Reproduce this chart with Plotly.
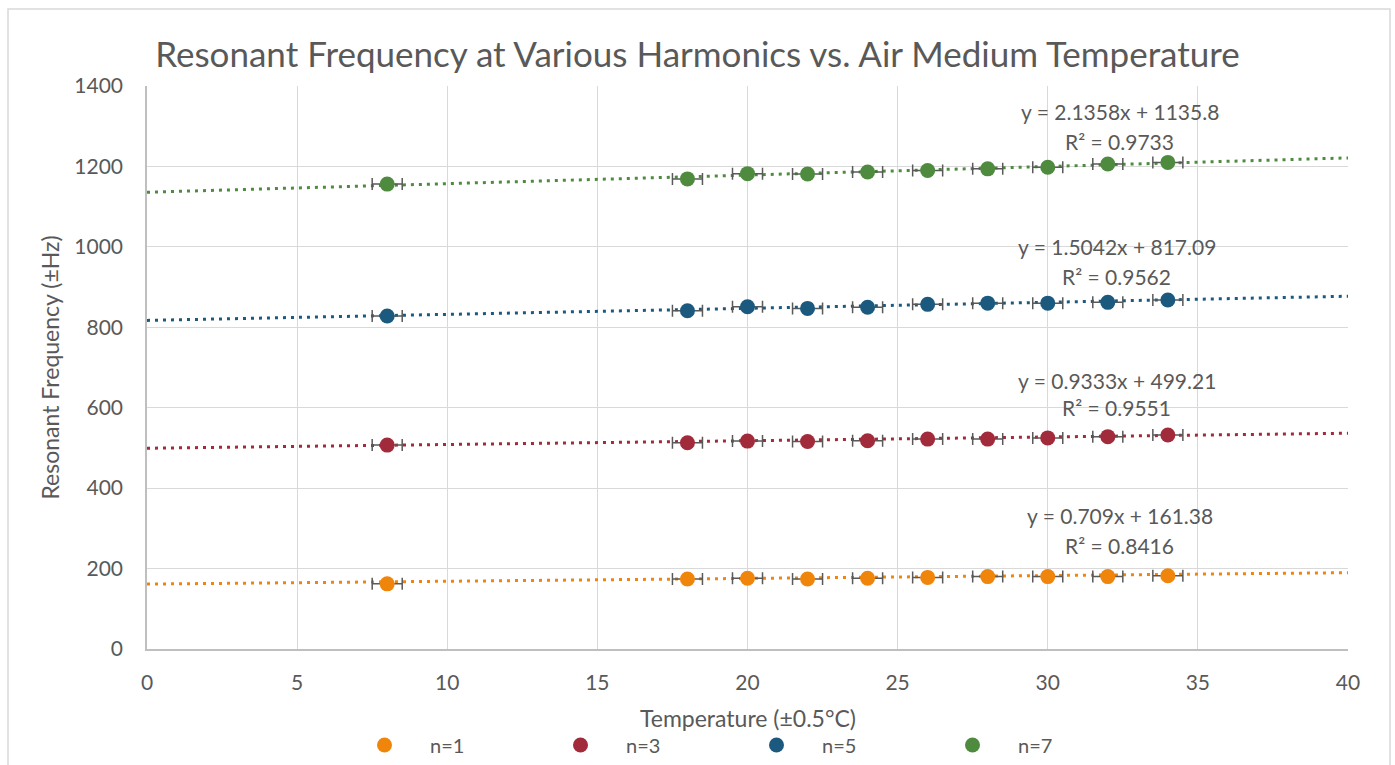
import plotly.graph_objects as go

temps = [8, 18, 20, 22, 24, 26, 28, 30, 32, 34]
n1 = [162, 174, 176, 174, 176, 178, 180, 180, 180, 182]
n3 = [507, 513, 517, 516, 518, 522, 522, 525, 528, 532]
n5 = [828, 841, 851, 847, 850, 857, 860, 860, 862, 868]
n7 = [1156, 1169, 1182, 1181, 1186, 1190, 1194, 1198, 1206, 1210]
temp_err = 0.5

names = ["n=1", "n=3", "n=5", "n=7"]
series = [n1, n3, n5, n7]
colors = ["#F0850C", "#A12A3B", "#1B5A7E", "#4E8B3F"]
slopes = [0.709, 0.9333, 1.5042, 2.1358]
intercepts = [161.38, 499.21, 817.09, 1135.8]
r2 = [0.8416, 0.9551, 0.9562, 0.9733]
label_x = [32.4, 32.3, 32.3, 32.4]
label_y1 = [333, 667, 1000, 1336]
label_y2 = [258, 601, 927, 1262]
trend_x = [0, 40]
x_title = "Temperature (±0.5°C)"
y_title = "Resonant Frequency (±Hz)"

FONT = "Lato"
GRAY = "#595959"
PAD = "\u00a0" * 5

fig = go.Figure()

for i in range(4):
    fig.add_trace(go.Scatter(
        x=trend_x,
        y=[intercepts[i] + slopes[i] * t for t in trend_x],
        mode="lines",
        line=dict(color=colors[i], width=3, dash="3px,5px"),
        showlegend=False, hoverinfo="skip",
    ))

for i in range(4):
    fig.add_trace(go.Scatter(
        x=temps, y=series[i], mode="markers", name=PAD + names[i],
        marker=dict(color=colors[i], size=15),
        error_x=dict(type="constant", value=temp_err, color=GRAY,
                     thickness=1.5, width=6),
    ))

annotations = []
for i in range(4):
    annotations.append(dict(
        x=label_x[i], y=label_y1[i], xref="x", yref="y", showarrow=False,
        text=f"y = {slopes[i]}x + {intercepts[i]}",
        font=dict(family=FONT, size=21, color=GRAY), xanchor="center", yanchor="middle"))
    annotations.append(dict(
        x=label_x[i], y=label_y2[i], xref="x", yref="y", showarrow=False,
        text=f"R² = {r2[i]}",
        font=dict(family=FONT, size=21, color=GRAY), xanchor="center", yanchor="middle"))
annotations.append(dict(
    x=0.5, y=-(718 - 649) / 563, xref="paper", yref="paper", showarrow=False,
    text=x_title, font=dict(family=FONT, size=23, color=GRAY),
    xanchor="center", yanchor="middle"))

fig.update_layout(
    width=1395, height=765,
    margin=dict(l=147, r=47, t=86, b=116),
    paper_bgcolor="white", plot_bgcolor="white",
    font=dict(family=FONT, color=GRAY, size=19),
    title=dict(text="Resonant Frequency at Various Harmonics vs. Air Medium Temperature",
               x=0.5, xanchor="center", y=1 - 55 / 765, yanchor="middle",
               font=dict(family=FONT, size=35, color=GRAY)),
    xaxis=dict(range=[0, 40], dtick=5, tick0=0, showgrid=True, gridcolor="#D9D9D9",
               gridwidth=1, showline=True, linecolor="#BFBFBF", linewidth=1.5,
               zeroline=False, ticks="", ticklabelstandoff=14, automargin=False,
               tickfont=dict(family=FONT, size=21, color=GRAY)),
    yaxis=dict(range=[0, 1400], dtick=200, showgrid=True, gridcolor="#D9D9D9",
               gridwidth=1, showline=True, linecolor="#BFBFBF", linewidth=1.5,
               zeroline=False, ticks="", ticklabelstandoff=18, automargin=False,
               tickfont=dict(family=FONT, size=21, color=GRAY),
               title=dict(text=y_title, standoff=8,
                          font=dict(family=FONT, size=23, color=GRAY))),
    legend=dict(orientation="h", x=0.5075, xanchor="center",
                yref="container", y=1 - 745 / 765, yanchor="middle",
                entrywidth=151, font=dict(family=FONT, size=20, color=GRAY),
                bgcolor="rgba(0,0,0,0)"),
    annotations=annotations,
    shapes=[dict(type="rect", xref="paper", yref="paper",
                 x0=(8 - 147) / 1201, x1=(1390 - 147) / 1201,
                 y0=-0.3, y1=(649 - 9) / 563,
                 line=dict(color="#D9D9D9", width=1.5), fillcolor="rgba(0,0,0,0)",
                 layer="below")],
)

fig.write_html("out.html", config={"displayModeBar": False},
               post_script="document.body.style.margin='0px';")
